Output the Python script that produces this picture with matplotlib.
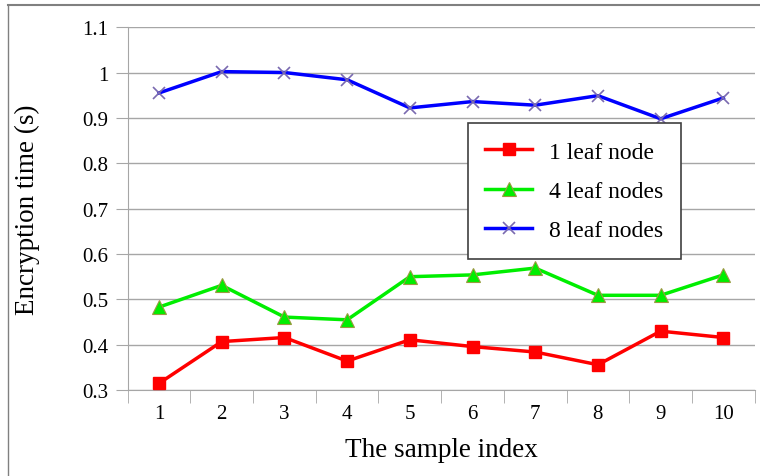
import matplotlib.pyplot as plt
from matplotlib.lines import Line2D

samples = list(range(1, 11))
one_leaf = [0.315, 0.407, 0.416, 0.364, 0.411, 0.396, 0.384, 0.356, 0.430, 0.416]
four_leaf = [0.483, 0.531, 0.461, 0.455, 0.550, 0.554, 0.569, 0.509, 0.509, 0.554]
eight_leaf = [0.955, 1.002, 1.000, 0.984, 0.922, 0.936, 0.928, 0.949, 0.898, 0.944]
yticks = [0.3, 0.4, 0.5, 0.6, 0.7, 0.8, 0.9, 1.0, 1.1]
ytick_labels = ['0.3', '0.4', '0.5', '0.6', '0.7', '0.8', '0.9', '1', '1.1']

plt.rcParams['font.family'] = ['Liberation Serif', 'DejaVu Serif']

fig = plt.figure(figsize=(7.6, 4.77), dpi=100)
ax = fig.add_axes([0.168, 0.180, 0.825, 0.761])

grid_c = '#a6a6a6'
ax.plot(samples, one_leaf, color='#ff0000', lw=2.5, marker='s', ms=9,
        label='1 leaf node', zorder=3)
ax.plot(samples, four_leaf, color='#00ee00', lw=2.5, marker='^', ms=10,
        mec='#9a9a40', mew=0.8, label='4 leaf nodes', zorder=3)
ax.plot(samples, eight_leaf, color='#0000ff', lw=2.5, marker='x', ms=9,
        mec='#7a6ab0', mew=1.2, label='8 leaf nodes', zorder=3)

ax.set_xlim(0.5, 10.5)
ax.set_ylim(0.3, 1.1)
ax.set_yticks(yticks)
ax.set_yticklabels(ytick_labels)
ax.set_xticks(samples)
ax.set_xticks([i + 0.5 for i in range(0, 11)], minor=True)
ax.tick_params(axis='x', which='major', length=0, pad=10, labelsize=15)
ax.tick_params(axis='x', which='minor', length=9, color=grid_c, direction='out')
ax.tick_params(axis='y', length=9, color=grid_c, labelsize=15, pad=5)
ax.yaxis.grid(True, color=grid_c, lw=1)
ax.set_axisbelow(True)

for s in ['top', 'right']:
    ax.spines[s].set_visible(False)
for s in ['left', 'bottom']:
    ax.spines[s].set_color(grid_c)

ax.set_xlabel('The sample index', fontsize=19.5, labelpad=10)
ax.set_ylabel('Encryption time (s)', fontsize=19.5, labelpad=30)

leg = ax.legend(loc='upper left', bbox_to_anchor=(0.542, 0.735), fontsize=17,
                frameon=True, fancybox=False, framealpha=1, edgecolor='#404040',
                handlelength=2.0, handletextpad=0.7, borderpad=0.75,
                labelspacing=0.75, borderaxespad=0)
leg.get_frame().set_linewidth(1.2)

# page frame of the scanned figure
fig.add_artist(Line2D([0.011, 1.0], [0.987, 0.987], color='#808080', lw=1.5))
fig.add_artist(Line2D([0.011, 0.011], [0.0, 0.987], color='#808080', lw=1.0))

fig.savefig('out.png', dpi=100)
